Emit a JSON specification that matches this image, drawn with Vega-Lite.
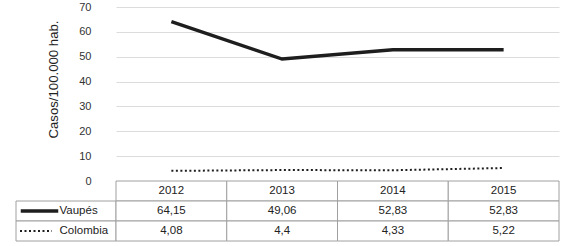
{
  "$schema": "https://vega.github.io/schema/vega-lite/v6.json",
  "padding": {"left": 13, "top": 1, "right": 5, "bottom": 4},
  "bounds": "flush",
  "spacing": 0,
  "config": {
    "view": {"stroke": null},
    "font": "Liberation Sans",
    "locale": {"number": {"decimal": ",", "thousands": ".", "grouping": [3], "currency": ["$", ""]}}
  },
  "datasets": {
    "tasas": [
      {"year": "2012", "serie": "Vaupés", "valor": 64.15},
      {"year": "2013", "serie": "Vaupés", "valor": 49.06},
      {"year": "2014", "serie": "Vaupés", "valor": 52.83},
      {"year": "2015", "serie": "Vaupés", "valor": 52.83},
      {"year": "2012", "serie": "Colombia", "valor": 4.08},
      {"year": "2013", "serie": "Colombia", "valor": 4.4},
      {"year": "2014", "serie": "Colombia", "valor": 4.33},
      {"year": "2015", "serie": "Colombia", "valor": 5.22}
    ]
  },
  "vconcat": [
    {
      "width": 443,
      "height": 174,
      "data": {"name": "tasas"},
      "encoding": {
        "x": {"field": "year", "type": "ordinal", "scale": {"type": "point", "padding": 0.5}, "axis": null},
        "y": {
          "field": "valor", "type": "quantitative",
          "scale": {"domain": [0, 70], "nice": false},
          "axis": {
            "values": [0, 10, 20, 30, 40, 50, 60, 70],
            "domain": false, "ticks": false,
            "labelPadding": 25, "labelFontSize": 11, "labelColor": "#333333",
            "gridColor": "#dcdcdc", "gridWidth": 1,
            "title": "Casos/100.000 hab.", "titleFontSize": 13.2, "titleFontWeight": "normal",
            "titleColor": "#222222", "titlePadding": 18, "titleY": 72
          }
        }
      },
      "layer": [
        {
          "transform": [{"filter": "datum.serie === 'Vaupés'"}],
          "mark": {"type": "line", "color": "#1e1e1e", "strokeWidth": 3.5}
        },
        {
          "transform": [{"filter": "datum.serie === 'Colombia'"}],
          "mark": {"type": "line", "color": "#1e1e1e", "strokeWidth": 2, "strokeDash": [2, 2.5]}
        }
      ]
    },
    {
      "width": 443,
      "height": 60,
      "data": {"name": "tasas"},
      "resolve": {"scale": {"x": "independent"}},
      "encoding": {
        "y": {
          "field": "serie", "type": "nominal",
          "scale": {"type": "band", "domain": ["año", "Vaupés", "Colombia"], "paddingInner": 0, "paddingOuter": 0},
          "axis": null
        }
      },
      "layer": [
        {
          "transform": [{"filter": "datum.year === '2012'"}],
          "mark": {"type": "rect", "fill": "white", "stroke": "#a0a0a0", "strokeWidth": 1},
          "encoding": {
            "x": {"datum": "leg", "type": "nominal", "scale": {"type": "band", "domain": ["leg"], "range": [-100, 0], "paddingInner": 0, "paddingOuter": 0}, "axis": null}
          }
        },
        {
          "transform": [{"filter": "datum.year === '2012' && datum.serie === 'Vaupés'"}],
          "mark": {"type": "point", "shape": "stroke", "size": 1406, "filled": false, "stroke": "#1e1e1e", "strokeWidth": 3.5, "xOffset": -26.5, "opacity": 1},
          "encoding": {
            "x": {"datum": "leg", "type": "nominal", "scale": {"type": "point", "domain": ["leg"], "range": [-100, 0], "padding": 0.5}, "axis": null},
            "y": {"field": "serie", "type": "nominal", "bandPosition": 0.5}
          }
        },
        {
          "transform": [{"filter": "datum.year === '2012' && datum.serie === 'Colombia'"}],
          "mark": {"type": "point", "shape": "stroke", "size": 1024, "filled": false, "stroke": "#1e1e1e", "strokeWidth": 2, "strokeDash": [2, 2.5], "xOffset": -30, "opacity": 1},
          "encoding": {
            "x": {"datum": "leg", "type": "nominal", "scale": {"type": "point", "domain": ["leg"], "range": [-100, 0], "padding": 0.5}, "axis": null},
            "y": {"field": "serie", "type": "nominal", "bandPosition": 0.5}
          }
        },
        {
          "transform": [{"filter": "datum.year === '2012'"}],
          "mark": {"type": "text", "align": "left", "dx": -6.5, "fontSize": 11.5, "color": "#222222"},
          "encoding": {
            "x": {"datum": "leg", "type": "nominal", "scale": {"type": "point", "domain": ["leg"], "range": [-100, 0], "padding": 0.5}, "axis": null},
            "y": {"field": "serie", "type": "nominal", "bandPosition": 0.5},
            "text": {"field": "serie"}
          }
        },
        {
          "transform": [{"filter": "datum.serie === 'Vaupés'"}],
          "mark": {"type": "rect", "fill": "white", "stroke": "#a0a0a0", "strokeWidth": 1},
          "encoding": {
            "x": {"field": "year", "type": "nominal", "scale": {"type": "band", "paddingInner": 0, "paddingOuter": 0}, "axis": null},
            "y": {"datum": "año", "type": "nominal"}
          }
        },
        {
          "mark": {"type": "rect", "fill": "white", "stroke": "#a0a0a0", "strokeWidth": 1},
          "encoding": {
            "x": {"field": "year", "type": "nominal", "scale": {"type": "band", "paddingInner": 0, "paddingOuter": 0}, "axis": null}
          }
        },
        {
          "transform": [{"filter": "datum.serie === 'Vaupés'"}],
          "mark": {"type": "text", "fontSize": 11.5, "color": "#222222"},
          "encoding": {
            "x": {"field": "year", "type": "nominal", "scale": {"type": "point", "padding": 0.5}, "axis": null},
            "y": {"datum": "año", "type": "nominal", "bandPosition": 0.5},
            "text": {"field": "year"}
          }
        },
        {
          "mark": {"type": "text", "fontSize": 11.5, "color": "#222222"},
          "encoding": {
            "x": {"field": "year", "type": "nominal", "scale": {"type": "point", "padding": 0.5}, "axis": null},
            "y": {"field": "serie", "type": "nominal", "bandPosition": 0.5},
            "text": {"field": "valor", "type": "quantitative", "format": ".2~f"}
          }
        }
      ]
    }
  ]
}
